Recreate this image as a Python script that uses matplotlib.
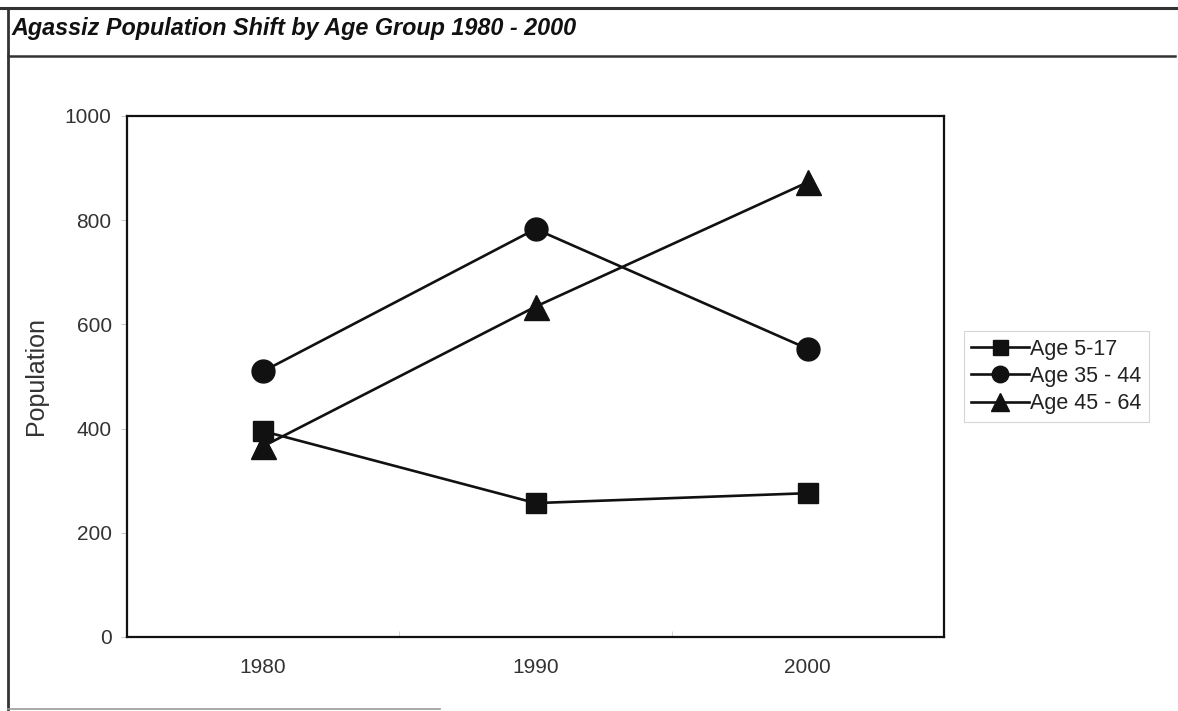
import matplotlib.pyplot as plt
from matplotlib.lines import Line2D

# --- DATA ---
years = [1980, 1990, 2000]
age_5_17 = [395, 257, 276]
age_35_44 = [510, 783, 553]
age_45_64 = [366, 634, 873]
series_labels = ['Age 5-17', 'Age 35 - 44', 'Age 45 - 64']
y_ticks = [0, 200, 400, 600, 800, 1000]

plt.rcParams['font.family'] = ['Liberation Sans', 'DejaVu Sans']

fig = plt.figure(figsize=(11.78, 7.11), dpi=100)
ax = fig.add_axes([0.1078, 0.1041, 0.6936, 0.7328])

styles = [('s', 15), ('o', 16.5), ('^', 18)]
for vals, lab, (m, ms) in zip([age_5_17, age_35_44, age_45_64], series_labels, styles):
    ax.plot(years, vals, color='#111111', lw=1.9, marker=m, markersize=ms,
            markerfacecolor='#111111', markeredgecolor='#111111', label=lab)

ax.set_xlim(1975, 2005)
ax.set_ylim(0, 1000)
ax.set_yticks(y_ticks)
ax.set_xticks(years)
ax.set_xticks([1985, 1995], minor=True)
ax.tick_params(axis='y', length=4, width=0.6, color='#bbbbbb', pad=7, labelsize=15, labelcolor='#333333')
ax.tick_params(axis='x', which='major', length=0, pad=15, labelsize=15, labelcolor='#333333')
ax.tick_params(axis='x', which='minor', length=4, width=0.6, color='#cccccc', direction='in')
for sp in ax.spines.values():
    sp.set_linewidth(1.6)
    sp.set_color('#111111')

ax.set_ylabel('Population', fontsize=18, color='#333333', labelpad=12)

leg = ax.legend(loc='center left', bbox_to_anchor=(1.024, 0.5), fontsize=15.5,
                frameon=True, fancybox=False, edgecolor='#cccccc', handlelength=2.7,
                handletextpad=0.05, borderpad=0.35, labelspacing=0.3, markerscale=0.72,
                borderaxespad=0)
leg.get_frame().set_linewidth(0.8)
for t in leg.get_texts():
    t.set_color('#222222')

# title and frame lines
fig.text(11 / 1178, 1 - 28 / 711, 'Agassiz Population Shift by Age Group 1980 - 2000',
         fontsize=16.8, fontweight='bold', fontstyle='italic', color='#111111', va='center', ha='left')
fig.add_artist(Line2D([0, 1], [1 - 8 / 711] * 2, color='#333333', lw=2.2))
fig.add_artist(Line2D([8 / 1178, 1175 / 1178], [1 - 56 / 711] * 2, color='#333333', lw=1.8))
fig.add_artist(Line2D([8 / 1178] * 2, [1 - 8 / 711, 1 - 709 / 711], color='#333333', lw=2.0))
fig.add_artist(Line2D([8 / 1178, 440 / 1178], [1 - 709 / 711] * 2, color='#999999', lw=1.2))

fig.savefig('out.png', dpi=100)
